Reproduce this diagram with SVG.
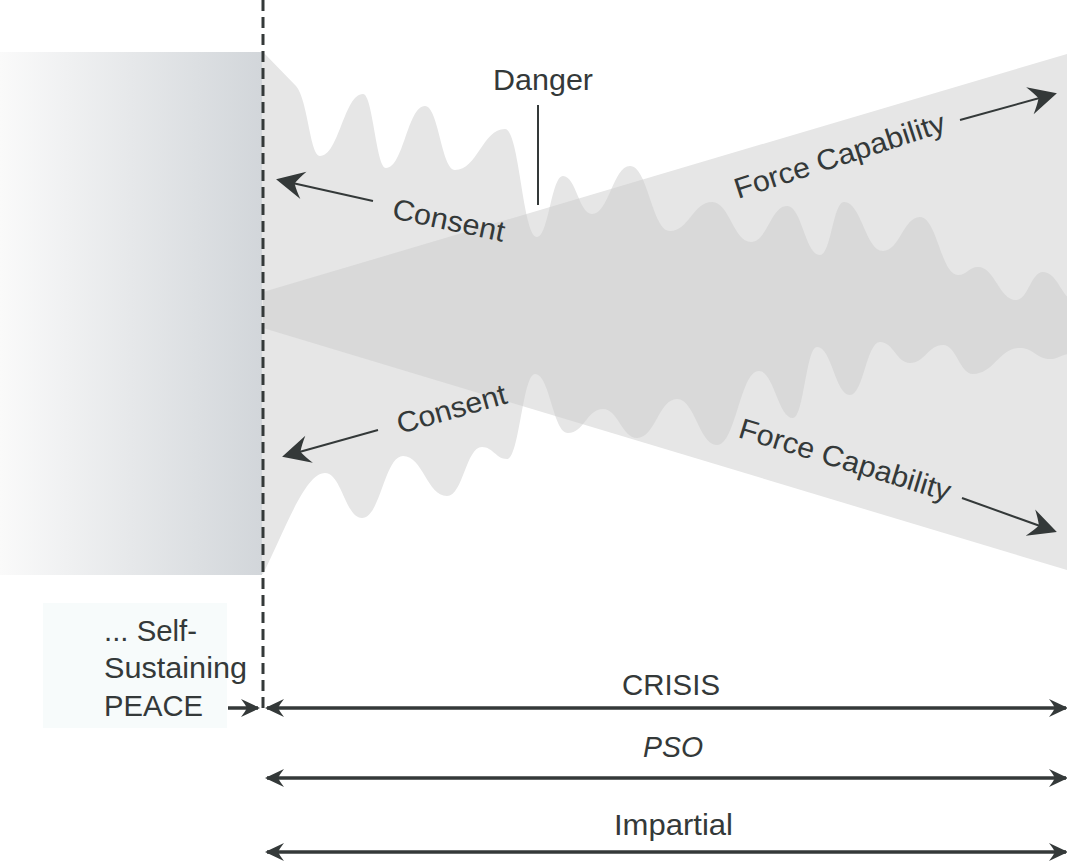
<svg xmlns="http://www.w3.org/2000/svg" xmlns:xlink="http://www.w3.org/1999/xlink" width="1067" height="862" viewBox="0 0 1067 862">
<style>
.t{font-family:"Liberation Sans",Arial,Helvetica,sans-serif;font-size:29px;fill:#343939}
.ln{stroke:#343939;fill:none;stroke-width:2}
.bl{stroke:#343939;fill:none;stroke-width:3.5}
</style>
<defs>
<linearGradient id="peaceGrad" x1="0" y1="0" x2="1" y2="0">
<stop offset="0" stop-color="#fafafa"/>
<stop offset="1" stop-color="#d2d6da"/>
</linearGradient>
<marker id="bigHead" markerUnits="userSpaceOnUse" viewBox="-30 -15 32 30" markerWidth="32" markerHeight="30" refX="-3" refY="0" orient="auto">
<path d="M0,0 L-28,-14 Q-22,-6 -19,0 Q-22,6 -28,14 Z" fill="#343939"/>
</marker>
<marker id="smallHead" markerUnits="userSpaceOnUse" viewBox="-20 -10 22 20" markerWidth="22" markerHeight="20" refX="-2" refY="0" orient="auto-start-reverse">
<path d="M0,0 L-19,-9 Q-15,-4 -13,0 Q-15,4 -19,9 Z" fill="#343939"/>
</marker>
<path id="wave" d="M262,52 L263,52 L296,86 C308,100 310,156 320,156 C339,156 344,94 363,94 C373,94 376,168 386,168 C403.5,168 407.5,106 425,106 C438.5,106 441.5,170 455,170 C477.5,170 482.5,129 505,129 C519.4,129 522.6,237 537,237 C548.7,237 551.3,176 563,176 C576,176 579,214 592,214 C609,214 613,166 630,166 C648,166 652,231 670,231 C689,231 693,202 712,202 C729.5,202 733.5,242 751,242 C767,242 771,206 787,206 C802,206 805,255 820,255 C831,255 833,202 844,202 C861.5,202 865.5,251 883,251 C899.5,251 903.5,217 920,217 C937,217 941,275 958,275 C967,275 969,267 978,267 C995,267 999,300 1016,300 C1028,300 1031,272 1043,272 C1055,272 1060,290 1070,300 L1070,354 C1061,354 1059,359 1050,359 C1036.5,359 1033.5,348 1020,348 C999,348 994,374 973,374 C959.5,374 956.5,345 943,345 C928,345 925,363 910,363 C896.5,363 893.5,342 880,342 C866.5,342 863.5,395 850,395 C835,395 832,347 817,347 C806,347 804,418 793,418 C778,418 774,371 759,371 C740,371 736,445 717,445 C699,445 695,399 677,399 C659,399 655,438 637,438 C622,438 618,409 603,409 C587,409 584,433 568,433 C553,433 550,374 535,374 C522.5,374 519.5,459 507,459 C496,459 493,447 482,447 C466,447 463,496 447,496 C427,496 423,456 403,456 C384.5,456 380.5,518 362,518 C345.5,518 341.5,473 325,473 C305,473 285,530 263,574 L262,574 Z"/>
<clipPath id="wedgeClip"><polygon points="263,292 1070,53 1070,571 263,328"/></clipPath>
</defs>

<g id="peace-zone">
<rect x="0" y="52" width="262" height="523" fill="url(#peaceGrad)"/>
</g>

<g id="force-wedge">
<polygon points="263,292 1070,53 1070,571 263,328" fill="#e6e6e6"/>
</g>

<g id="consent-danger">
<use xlink:href="#wave" fill="#e6e6e6"/>
<use xlink:href="#wave" fill="#d9d9d9" clip-path="url(#wedgeClip)"/>
</g>

<g id="peace-label">
<rect x="43" y="603" width="184" height="125" fill="#f7fbfb"/>
<text class="t" x="104" y="641" textLength="93" lengthAdjust="spacingAndGlyphs">... Self-</text>
<text class="t" x="104" y="678" textLength="143" lengthAdjust="spacingAndGlyphs">Sustaining</text>
<text class="t" x="104" y="716" textLength="99" lengthAdjust="spacingAndGlyphs">PEACE</text>
</g>

<g id="labels">
<text class="t" x="493" y="90" textLength="100" lengthAdjust="spacingAndGlyphs">Danger</text>
<text class="t" x="391" y="218" transform="rotate(12 391 218)" textLength="114" lengthAdjust="spacingAndGlyphs">Consent</text>
<text class="t" x="400" y="434" transform="rotate(-16 400 434)" textLength="113" lengthAdjust="spacingAndGlyphs">Consent</text>
<text class="t" x="738" y="199" transform="rotate(-18 738 199)" textLength="220" lengthAdjust="spacingAndGlyphs">Force Capability</text>
<text class="t" x="737" y="437" transform="rotate(17 737 437)" textLength="220" lengthAdjust="spacingAndGlyphs">Force Capability</text>
<text class="t" x="622" y="695" textLength="98" lengthAdjust="spacingAndGlyphs">CRISIS</text>
<text class="t" x="643" y="757" font-style="italic" textLength="60" lengthAdjust="spacingAndGlyphs">PSO</text>
<text class="t" x="614" y="835" textLength="119" lengthAdjust="spacingAndGlyphs">Impartial</text>
</g>

<g id="connectors">
<line x1="263" y1="0" x2="263" y2="708" stroke="#343939" stroke-width="3" stroke-dasharray="11 6"/>
<line class="ln" x1="538" y1="105" x2="538" y2="205"/>
<line class="ln" x1="373" y1="201" x2="279" y2="180" marker-end="url(#bigHead)"/>
<line class="ln" x1="378" y1="430" x2="285" y2="456" marker-end="url(#bigHead)"/>
<line class="ln" x1="960" y1="120" x2="1054" y2="94" marker-end="url(#bigHead)"/>
<line class="ln" x1="962" y1="498" x2="1054" y2="531" marker-end="url(#bigHead)"/>
<line class="bl" x1="228" y1="708" x2="258" y2="708" marker-end="url(#smallHead)"/>
<line class="bl" x1="267" y1="708" x2="1066" y2="708" marker-start="url(#smallHead)" marker-end="url(#smallHead)"/>
<line class="bl" x1="267" y1="778" x2="1066" y2="778" marker-start="url(#smallHead)" marker-end="url(#smallHead)"/>
<line class="bl" x1="267" y1="852" x2="1066" y2="852" marker-start="url(#smallHead)" marker-end="url(#smallHead)"/>
</g>
</svg>
